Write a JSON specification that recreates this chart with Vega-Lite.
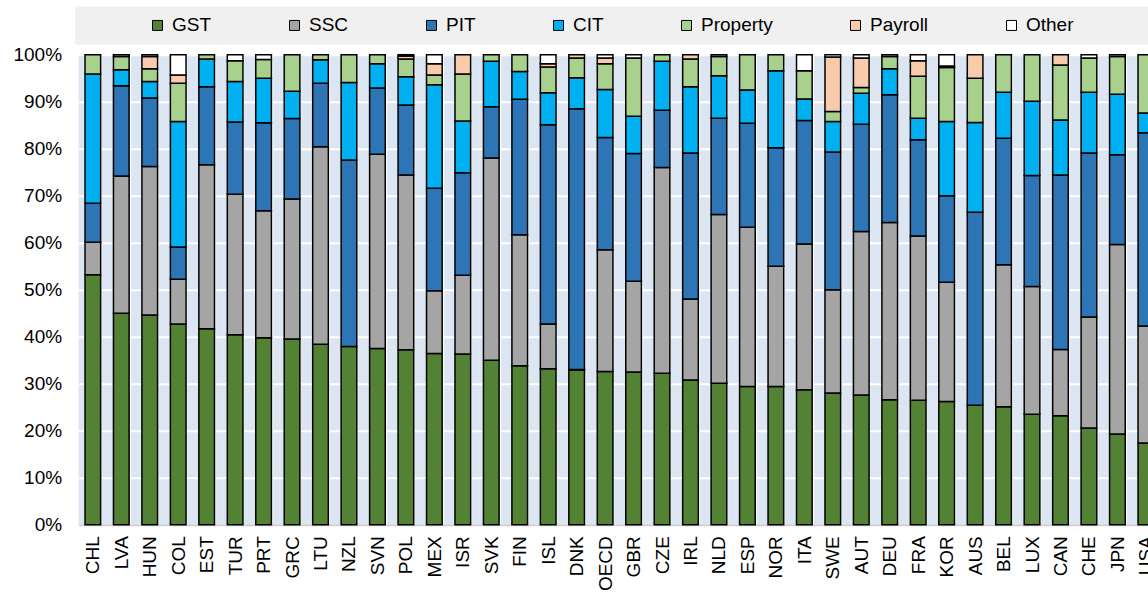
{
  "$schema": "https://vega.github.io/schema/vega-lite/v6.json",
  "width": 1069.4,
  "height": 470,
  "autosize": {"type": "none"},
  "padding": {"left": 78.6, "top": 54.7, "right": 0, "bottom": 67.3},
  "background": "white",
  "config": {
    "font": "Liberation Sans",
    "view": {"fill": "#dce6f2", "stroke": null}
  },
  "datasets": {
    "types": [
      {"t": "GST", "rank": 1}, {"t": "SSC", "rank": 2}, {"t": "PIT", "rank": 3}, {"t": "CIT", "rank": 4},
      {"t": "Property", "rank": 5}, {"t": "Payroll", "rank": 6}, {"t": "Other", "rank": 7}
    ],
    "shares": [
      {"c":"CHL","t":"GST","v":53.2},{"c":"CHL","t":"SSC","v":6.9},{"c":"CHL","t":"PIT","v":8.3},{"c":"CHL","t":"CIT","v":27.5},{"c":"CHL","t":"Property","v":4.1},
      {"c":"LVA","t":"GST","v":45.0},{"c":"LVA","t":"SSC","v":29.2},{"c":"LVA","t":"PIT","v":19.2},{"c":"LVA","t":"CIT","v":3.4},{"c":"LVA","t":"Property","v":2.8},{"c":"LVA","t":"Other","v":0.4},
      {"c":"HUN","t":"GST","v":44.6},{"c":"HUN","t":"SSC","v":31.6},{"c":"HUN","t":"PIT","v":14.6},{"c":"HUN","t":"CIT","v":3.5},{"c":"HUN","t":"Property","v":2.7},{"c":"HUN","t":"Payroll","v":2.6},{"c":"HUN","t":"Other","v":0.4},
      {"c":"COL","t":"GST","v":42.7},{"c":"COL","t":"SSC","v":9.5},{"c":"COL","t":"PIT","v":6.9},{"c":"COL","t":"CIT","v":26.7},{"c":"COL","t":"Property","v":8.1},{"c":"COL","t":"Payroll","v":1.8},{"c":"COL","t":"Other","v":4.3},
      {"c":"EST","t":"GST","v":41.7},{"c":"EST","t":"SSC","v":34.9},{"c":"EST","t":"PIT","v":16.6},{"c":"EST","t":"CIT","v":5.9},{"c":"EST","t":"Property","v":0.9},
      {"c":"TUR","t":"GST","v":40.4},{"c":"TUR","t":"SSC","v":29.9},{"c":"TUR","t":"PIT","v":15.4},{"c":"TUR","t":"CIT","v":8.6},{"c":"TUR","t":"Property","v":4.4},{"c":"TUR","t":"Other","v":1.3},
      {"c":"PRT","t":"GST","v":39.8},{"c":"PRT","t":"SSC","v":27.0},{"c":"PRT","t":"PIT","v":18.7},{"c":"PRT","t":"CIT","v":9.5},{"c":"PRT","t":"Property","v":4.0},{"c":"PRT","t":"Other","v":1.0},
      {"c":"GRC","t":"GST","v":39.5},{"c":"GRC","t":"SSC","v":29.8},{"c":"GRC","t":"PIT","v":17.1},{"c":"GRC","t":"CIT","v":5.8},{"c":"GRC","t":"Property","v":7.8},
      {"c":"LTU","t":"GST","v":38.4},{"c":"LTU","t":"SSC","v":42.0},{"c":"LTU","t":"PIT","v":13.5},{"c":"LTU","t":"CIT","v":5.0},{"c":"LTU","t":"Property","v":1.1},
      {"c":"NZL","t":"GST","v":37.9},{"c":"NZL","t":"PIT","v":39.7},{"c":"NZL","t":"CIT","v":16.5},{"c":"NZL","t":"Property","v":5.9},
      {"c":"SVN","t":"GST","v":37.5},{"c":"SVN","t":"SSC","v":41.3},{"c":"SVN","t":"PIT","v":14.1},{"c":"SVN","t":"CIT","v":5.2},{"c":"SVN","t":"Property","v":1.9},
      {"c":"POL","t":"GST","v":37.2},{"c":"POL","t":"SSC","v":37.2},{"c":"POL","t":"PIT","v":14.9},{"c":"POL","t":"CIT","v":6.0},{"c":"POL","t":"Property","v":3.8},{"c":"POL","t":"Payroll","v":0.6},{"c":"POL","t":"Other","v":0.3},
      {"c":"MEX","t":"GST","v":36.4},{"c":"MEX","t":"SSC","v":13.4},{"c":"MEX","t":"PIT","v":21.8},{"c":"MEX","t":"CIT","v":22.0},{"c":"MEX","t":"Property","v":2.1},{"c":"MEX","t":"Payroll","v":2.4},{"c":"MEX","t":"Other","v":1.9},
      {"c":"ISR","t":"GST","v":36.3},{"c":"ISR","t":"SSC","v":16.8},{"c":"ISR","t":"PIT","v":21.8},{"c":"ISR","t":"CIT","v":11.0},{"c":"ISR","t":"Property","v":10.0},{"c":"ISR","t":"Payroll","v":4.1},
      {"c":"SVK","t":"GST","v":35.0},{"c":"SVK","t":"SSC","v":43.0},{"c":"SVK","t":"PIT","v":10.9},{"c":"SVK","t":"CIT","v":9.7},{"c":"SVK","t":"Property","v":1.4},
      {"c":"FIN","t":"GST","v":33.8},{"c":"FIN","t":"SSC","v":27.9},{"c":"FIN","t":"PIT","v":28.8},{"c":"FIN","t":"CIT","v":5.9},{"c":"FIN","t":"Property","v":3.6},
      {"c":"ISL","t":"GST","v":33.2},{"c":"ISL","t":"SSC","v":9.5},{"c":"ISL","t":"PIT","v":42.4},{"c":"ISL","t":"CIT","v":6.8},{"c":"ISL","t":"Property","v":5.5},{"c":"ISL","t":"Payroll","v":0.7},{"c":"ISL","t":"Other","v":1.9},
      {"c":"DNK","t":"GST","v":32.9},{"c":"DNK","t":"SSC","v":0.1},{"c":"DNK","t":"PIT","v":55.5},{"c":"DNK","t":"CIT","v":6.6},{"c":"DNK","t":"Property","v":4.2},{"c":"DNK","t":"Payroll","v":0.7},
      {"c":"OECD","t":"GST","v":32.6},{"c":"OECD","t":"SSC","v":25.9},{"c":"OECD","t":"PIT","v":23.9},{"c":"OECD","t":"CIT","v":10.2},{"c":"OECD","t":"Property","v":5.5},{"c":"OECD","t":"Payroll","v":1.2},{"c":"OECD","t":"Other","v":0.7},
      {"c":"GBR","t":"GST","v":32.5},{"c":"GBR","t":"SSC","v":19.3},{"c":"GBR","t":"PIT","v":27.2},{"c":"GBR","t":"CIT","v":7.9},{"c":"GBR","t":"Property","v":12.4},{"c":"GBR","t":"Other","v":0.7},
      {"c":"CZE","t":"GST","v":32.2},{"c":"CZE","t":"SSC","v":43.8},{"c":"CZE","t":"PIT","v":12.2},{"c":"CZE","t":"CIT","v":10.4},{"c":"CZE","t":"Property","v":1.4},
      {"c":"IRL","t":"GST","v":30.8},{"c":"IRL","t":"SSC","v":17.2},{"c":"IRL","t":"PIT","v":31.1},{"c":"IRL","t":"CIT","v":14.1},{"c":"IRL","t":"Property","v":5.9},{"c":"IRL","t":"Payroll","v":0.9},
      {"c":"NLD","t":"GST","v":30.1},{"c":"NLD","t":"SSC","v":35.9},{"c":"NLD","t":"PIT","v":20.5},{"c":"NLD","t":"CIT","v":9.0},{"c":"NLD","t":"Property","v":4.1},{"c":"NLD","t":"Other","v":0.4},
      {"c":"ESP","t":"GST","v":29.4},{"c":"ESP","t":"SSC","v":33.9},{"c":"ESP","t":"PIT","v":22.1},{"c":"ESP","t":"CIT","v":7.1},{"c":"ESP","t":"Property","v":7.5},
      {"c":"NOR","t":"GST","v":29.4},{"c":"NOR","t":"SSC","v":25.6},{"c":"NOR","t":"PIT","v":25.2},{"c":"NOR","t":"CIT","v":16.4},{"c":"NOR","t":"Property","v":3.4},
      {"c":"ITA","t":"GST","v":28.7},{"c":"ITA","t":"SSC","v":31.0},{"c":"ITA","t":"PIT","v":26.3},{"c":"ITA","t":"CIT","v":4.6},{"c":"ITA","t":"Property","v":6.0},{"c":"ITA","t":"Other","v":3.4},
      {"c":"SWE","t":"GST","v":28.0},{"c":"SWE","t":"SSC","v":22.0},{"c":"SWE","t":"PIT","v":29.3},{"c":"SWE","t":"CIT","v":6.5},{"c":"SWE","t":"Property","v":2.1},{"c":"SWE","t":"Payroll","v":11.6},{"c":"SWE","t":"Other","v":0.5},
      {"c":"AUT","t":"GST","v":27.6},{"c":"AUT","t":"SSC","v":34.8},{"c":"AUT","t":"PIT","v":22.8},{"c":"AUT","t":"CIT","v":6.6},{"c":"AUT","t":"Property","v":1.2},{"c":"AUT","t":"Payroll","v":6.3},{"c":"AUT","t":"Other","v":0.7},
      {"c":"DEU","t":"GST","v":26.6},{"c":"DEU","t":"SSC","v":37.7},{"c":"DEU","t":"PIT","v":27.2},{"c":"DEU","t":"CIT","v":5.5},{"c":"DEU","t":"Property","v":2.6},{"c":"DEU","t":"Other","v":0.4},
      {"c":"FRA","t":"GST","v":26.5},{"c":"FRA","t":"SSC","v":34.9},{"c":"FRA","t":"PIT","v":20.5},{"c":"FRA","t":"CIT","v":4.6},{"c":"FRA","t":"Property","v":8.9},{"c":"FRA","t":"Payroll","v":3.3},{"c":"FRA","t":"Other","v":1.3},
      {"c":"KOR","t":"GST","v":26.2},{"c":"KOR","t":"SSC","v":25.4},{"c":"KOR","t":"PIT","v":18.4},{"c":"KOR","t":"CIT","v":15.8},{"c":"KOR","t":"Property","v":11.5},{"c":"KOR","t":"Payroll","v":0.3},{"c":"KOR","t":"Other","v":2.4},
      {"c":"AUS","t":"GST","v":25.4},{"c":"AUS","t":"PIT","v":41.1},{"c":"AUS","t":"CIT","v":19.1},{"c":"AUS","t":"Property","v":9.4},{"c":"AUS","t":"Payroll","v":5.0},
      {"c":"BEL","t":"GST","v":25.1},{"c":"BEL","t":"SSC","v":30.2},{"c":"BEL","t":"PIT","v":26.9},{"c":"BEL","t":"CIT","v":9.8},{"c":"BEL","t":"Property","v":8.0},
      {"c":"LUX","t":"GST","v":23.5},{"c":"LUX","t":"SSC","v":27.2},{"c":"LUX","t":"PIT","v":23.6},{"c":"LUX","t":"CIT","v":15.8},{"c":"LUX","t":"Property","v":9.9},
      {"c":"CAN","t":"GST","v":23.2},{"c":"CAN","t":"SSC","v":14.1},{"c":"CAN","t":"PIT","v":37.1},{"c":"CAN","t":"CIT","v":11.7},{"c":"CAN","t":"Property","v":11.7},{"c":"CAN","t":"Payroll","v":2.2},
      {"c":"CHE","t":"GST","v":20.6},{"c":"CHE","t":"SSC","v":23.6},{"c":"CHE","t":"PIT","v":34.9},{"c":"CHE","t":"CIT","v":12.9},{"c":"CHE","t":"Property","v":7.3},{"c":"CHE","t":"Other","v":0.7},
      {"c":"JPN","t":"GST","v":19.3},{"c":"JPN","t":"SSC","v":40.3},{"c":"JPN","t":"PIT","v":19.1},{"c":"JPN","t":"CIT","v":12.9},{"c":"JPN","t":"Property","v":8.0},{"c":"JPN","t":"Other","v":0.4},
      {"c":"USA","t":"GST","v":17.4},{"c":"USA","t":"SSC","v":24.9},{"c":"USA","t":"PIT","v":41.1},{"c":"USA","t":"CIT","v":4.2},{"c":"USA","t":"Property","v":12.4}
    ]
  },
  "data": {"name": "shares"},
  "transform": [
    {"lookup": "t", "from": {"data": {"name": "types"}, "key": "t", "fields": ["rank"]}}
  ],
  "mark": {"type": "bar", "stroke": "#000000", "strokeWidth": 1.5},
  "encoding": {
    "x": {
      "field": "c",
      "type": "nominal",
      "sort": null,
      "scale": {"range": [0, 1081.5], "paddingInner": 0.45, "paddingOuter": 0.225},
      "axis": {
        "title": null,
        "labelAngle": -90,
        "labelFontSize": 19,
        "labelColor": "#000000",
        "labelPadding": 11,
        "ticks": false,
        "domain": true,
        "domainColor": "#d0d0d0",
        "domainWidth": 2,
        "grid": true,
        "gridColor": "#ffffff",
        "gridWidth": 2,
        "tickBand": "extent"
      }
    },
    "y": {
      "field": "v",
      "type": "quantitative",
      "stack": "zero",
      "scale": {"domain": [0, 100], "nice": false},
      "axis": {
        "title": null,
        "values": [0, 10, 20, 30, 40, 50, 60, 70, 80, 90, 100],
        "labelExpr": "datum.value + '%'",
        "labelFontSize": 19,
        "labelColor": "#000000",
        "labelPadding": 17,
        "ticks": false,
        "domain": false,
        "grid": true,
        "gridColor": "#ffffff",
        "gridWidth": 2
      }
    },
    "color": {
      "field": "t",
      "type": "nominal",
      "sort": ["GST", "SSC", "PIT", "CIT", "Property", "Payroll", "Other"],
      "scale": {
        "domain": ["GST", "SSC", "PIT", "CIT", "Property", "Payroll", "Other"],
        "range": ["#548235", "#a5a5a5", "#2e75b6", "#00b0f0", "#a9d18e", "#f8cbad", "#ffffff"]
      },
      "legend": {
        "orient": "none",
        "legendX": -3.6,
        "legendY": -48,
        "direction": "horizontal",
        "title": " ",
        "titleOrient": "right",
        "titlePadding": 65,
        "fillColor": "#f0f0f0",
        "padding": 9,
        "symbolType": "square",
        "symbolSize": 100,
        "symbolStrokeColor": "#000000",
        "symbolStrokeWidth": 1,
        "symbolOffset": 64,
        "columnPadding": 9,
        "labelOffset": 5,
        "labelFontSize": 19,
        "labelColor": "#000000"
      }
    },
    "order": {"field": "rank", "type": "quantitative", "sort": "ascending"}
  }
}
